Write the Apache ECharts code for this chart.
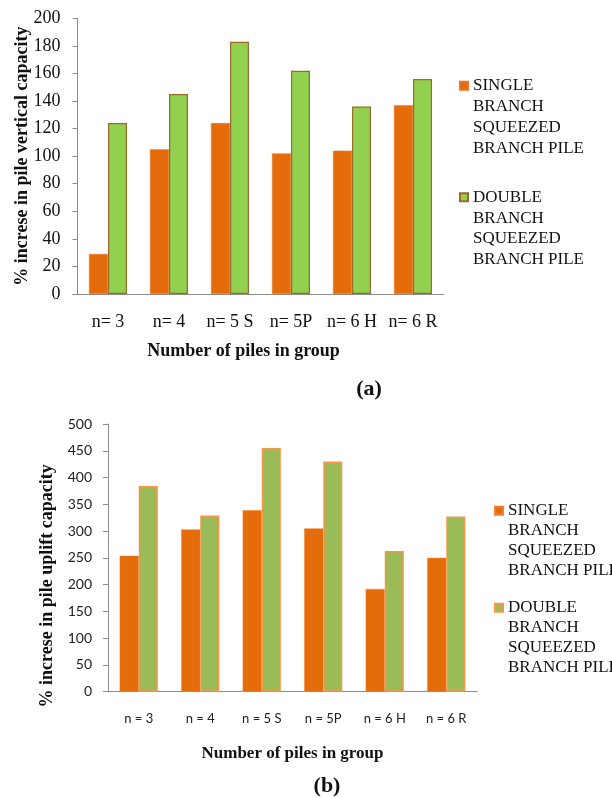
<!DOCTYPE html>
<html>
<head>
<meta charset="utf-8">
<script src="https://cdn.jsdelivr.net/npm/echarts@6/dist/echarts.min.js"></script>
<style>
  html, body { margin: 0; padding: 0; background: #fff; }
  #chart { width: 612px; height: 798px; }
</style>
</head>
<body>
<div id="chart"></div>
<script>
// Pile group configurations
const groups = ['n= 3', 'n= 4', 'n= 5 S', 'n= 5P', 'n= 6 H', 'n= 6 R'];
const groupsUplift = ['n = 3', 'n = 4', 'n = 5 S', 'n = 5P', 'n = 6 H', 'n = 6 R'];

// (a) % increase in vertical capacity
const verticalSingle = [29, 105, 124, 102, 104, 137];
const verticalDouble = [124, 145, 183, 162, 136, 156];

// (b) % increase in uplift capacity
const upliftSingle = [254, 303, 339, 305, 192, 250];
const upliftDouble = [384, 329, 455, 430, 263, 327];

const legendText = {
  singleA: 'SINGLE\nBRANCH\nSQUEEZED\nBRANCH PILE',
  doubleA: 'DOUBLE\nBRANCH\nSQUEEZED\nBRANCH PILE',
  singleB: 'SINGLE\nBRANCH\nSQUEEZED\nBRANCH PILE',
  doubleB: 'DOUBLE\nBRANCH\nSQUEEZED\nBRANCH PILE'
};

const serif = '"Liberation Serif", "Times New Roman", serif';
const sans = 'Lato, "Open Sans", sans-serif';
const axisGray = '#8c8c8c';

// swatchY: vertical centre of the swatch, which sits beside the first text line
function legendFor(name, swatchY, left, lineH) {
  // The swatch is an 8px square at the top of a taller, otherwise empty icon box,
  // so that it lines up with the first line of the four-line label.
  const h = 3 * lineH + 8;
  const overhang = (4 * lineH - h) / 2;
  return {
    data: [name], top: swatchY - 4 - overhang, left: left, padding: 0,
    orient: 'vertical',
    icon: 'path://M0,0L8,0L8,8L0,8Z M0,' + h + 'L0,' + h,
    itemWidth: 8, itemHeight: h,
    selectedMode: false,
    formatter: n => legendText[n],
    textStyle: { fontFamily: serif, fontSize: 17, color: '#111', lineHeight: lineH }
  };
}

const chart = echarts.init(document.getElementById('chart'), null, { renderer: 'canvas' });
chart.setOption({
  animation: false,
  backgroundColor: '#ffffff',
  grid: [
    { left: 77.5, right: 168.5, top: 18.3, height: 275.7 },
    { left: 108, right: 135, top: 424, height: 267.7 }
  ],
  xAxis: [
    {
      gridIndex: 0, type: 'category', data: groups,
      axisLine: { lineStyle: { color: axisGray, width: 1 } },
      axisTick: { show: false },
      axisLabel: { fontFamily: serif, fontSize: 18, color: '#111', margin: 19, interval: 0 },
      name: 'Number of piles in group', nameLocation: 'middle', nameGap: 48, nameMoveOverlap: false,
      nameTextStyle: { fontFamily: serif, fontSize: 18, fontWeight: 'bold', color: '#111', padding: [0, 34, 0, 0] }
    },
    {
      gridIndex: 1, type: 'category', data: groupsUplift,
      axisLine: { lineStyle: { color: axisGray, width: 1 } },
      axisTick: { show: false },
      axisLabel: { fontFamily: sans, fontSize: 13, color: '#222', margin: 21, interval: 0 },
      name: 'Number of piles in group', nameLocation: 'middle', nameGap: 53, nameMoveOverlap: false,
      nameTextStyle: { fontFamily: serif, fontSize: 17, fontWeight: 'bold', color: '#111' }
    }
  ],
  yAxis: [
    {
      gridIndex: 0, type: 'value', min: 0, max: 200, interval: 20,
      splitLine: { show: false },
      axisLine: { show: true, lineStyle: { color: axisGray, width: 1 } },
      axisTick: { show: true, length: 5, lineStyle: { color: axisGray } },
      axisLabel: { fontFamily: serif, fontSize: 18, color: '#111', margin: 17 },
      name: '% increse in pile vertical capacity', nameLocation: 'middle', nameGap: 46, nameMoveOverlap: false,
      nameTextStyle: { fontFamily: serif, fontSize: 18, fontWeight: 'bold', color: '#111' }
    },
    {
      gridIndex: 1, type: 'value', min: 0, max: 500, interval: 50,
      splitLine: { show: false },
      axisLine: { show: true, lineStyle: { color: axisGray, width: 1 } },
      axisTick: { show: true, length: 5, lineStyle: { color: axisGray } },
      axisLabel: { fontFamily: sans, fontSize: 14, color: '#222', margin: 16 },
      name: '% increse in pile uplift capacity', nameLocation: 'middle', nameGap: 52, nameMoveOverlap: false,
      nameTextStyle: { fontFamily: serif, fontSize: 18, fontWeight: 'bold', color: '#111', padding: [0, 56, 0, 0] }
    }
  ],
  legend: [
    legendFor('singleA', 85.7, 459, 20.8),
    legendFor('doubleA', 197.3, 459, 20.8),
    legendFor('singleB', 510.7, 494, 19.8),
    legendFor('doubleB', 607.7, 494, 19.8)
  ],
  series: [
    {
      name: 'singleA', type: 'bar', xAxisIndex: 0, yAxisIndex: 0,
      data: verticalSingle, barGap: '0%', barCategoryGap: '37.7%',
      itemStyle: { color: '#E46C0A', borderColor: '#E8762A', borderWidth: 0.5 }
    },
    {
      name: 'doubleA', type: 'bar', xAxisIndex: 0, yAxisIndex: 0,
      data: verticalDouble, barGap: '0%', barCategoryGap: '37.7%',
      itemStyle: { color: '#92D050', borderColor: '#9C6A2C', borderWidth: 1.2 }
    },
    {
      name: 'singleB', type: 'bar', xAxisIndex: 1, yAxisIndex: 1,
      data: upliftSingle, barGap: '0%', barCategoryGap: '38%',
      itemStyle: { color: '#E46C0A', borderColor: '#EE8030', borderWidth: 0.5 }
    },
    {
      name: 'doubleB', type: 'bar', xAxisIndex: 1, yAxisIndex: 1,
      data: upliftDouble, barGap: '0%', barCategoryGap: '38%',
      itemStyle: { color: '#9BBB59', borderColor: '#F79646', borderWidth: 1.5 }
    }
  ],
  graphic: [
    { type: 'text', x: 369, y: 389, style: { text: '(a)', font: 'bold 22px ' + serif, fill: '#111', align: 'center', verticalAlign: 'middle' } },
    { type: 'text', x: 327, y: 786, style: { text: '(b)', font: 'bold 22px ' + serif, fill: '#111', align: 'center', verticalAlign: 'middle' } }
  ]
});
</script>
</body>
</html>
